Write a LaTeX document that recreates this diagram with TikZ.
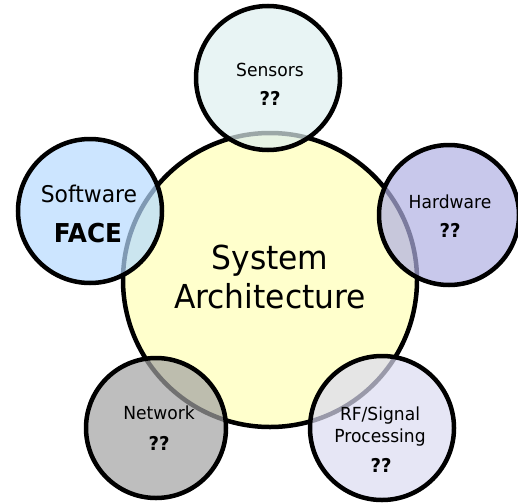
\documentclass[tikz,border=0pt]{standalone}
\usepackage{fontspec}
\setmainfont{DejaVu Sans}[FakeStretch=0.95]

\definecolor{corefill}{RGB}{255,255,204}
\definecolor{sensfill}{RGB}{222,239,239}
\definecolor{softfill}{RGB}{182,218,255}
\definecolor{hardfill}{RGB}{176,176,226}
\definecolor{netfill}{RGB}{162,162,162}
\definecolor{rffill}{RGB}{219,219,241}

\tikzset{
  core/.style={circle, draw=black, line width=4.5pt, fill=corefill, minimum size=294pt, inner sep=0pt},
  area/.style={circle, draw=black, line width=4.5pt, fill opacity=0.7, draw opacity=1, minimum size=144pt, inner sep=0pt},
  txt/.style={anchor=base, inner sep=0pt, font=\fontsize{18}{20}\selectfont},
  qq/.style={anchor=base, inner sep=0pt, font=\fontsize{19}{21}\selectfont\bfseries}
}

\begin{document}
\begin{tikzpicture}[x=1pt,y=-1pt]
    \useasboundingbox (0,0) rectangle (518,503);

    % Core circle
    \node[core] (sys) at (270,280) {};

    % Surrounding circles
    \node[area, fill=sensfill] (sens) at (268,78) {};
    \node[area, fill=softfill] (soft) at (90,211) {};
    \node[area, fill=hardfill, minimum size=140pt] (hard) at (449,215) {};
    \node[area, fill=netfill, minimum size=140pt] (net) at (156,428) {};
    \node[area, fill=rffill] (rf) at (382,428) {};

    % Core text
    \node[txt, font=\fontsize{33}{36}\selectfont] (sys1) at (270,269) {System};
    \node[txt, font=\fontsize{33}{36}\selectfont] (sys2) at (270,308) {Architecture};

    % Sensors
    \node[txt] (sens1) at (270,76.5) {Sensors};
    \node[qq] (sens2) at (270,105) {??};

    % Software
    \node[txt, font=\fontsize{23}{25}\selectfont] (soft1) at (89,202) {Software};
    \node[txt, font=\fontsize{26}{28}\selectfont\bfseries] (soft2) at (88,242) {FACE};

    % Hardware
    \node[txt] (hard1) at (450,208.5) {Hardware};
    \node[qq] (hard2) at (450,237) {??};

    % Network
    \node[txt] (net1) at (159,419.5) {Network};
    \node[qq] (net2) at (159,450) {??};

    % RF / signal processing
    \node[txt] (rf1) at (380,420) {RF/Signal};
    \node[txt] (rf2) at (380,442) {Processing};
    \node[qq] (rf3) at (381,472) {??};
\end{tikzpicture}
\end{document}
